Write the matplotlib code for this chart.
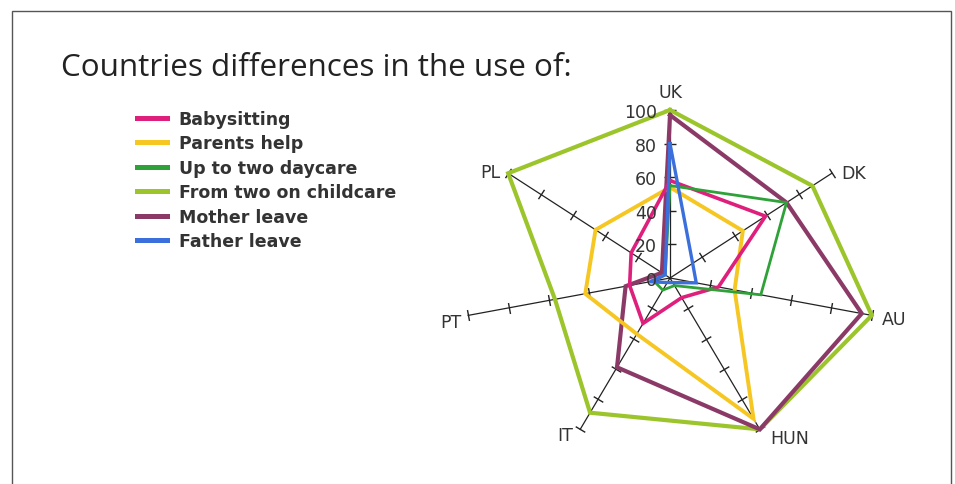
import numpy as np
import matplotlib
matplotlib.use("Agg")
import matplotlib.pyplot as plt
from matplotlib.lines import Line2D
from matplotlib.patches import Rectangle

# ---------------- data ----------------
countries = ['UK', 'DK', 'AU', 'HUN', 'IT', 'PT', 'PL']
babysitting = [58, 59, 24, 13, 30, 20, 24]
parents_help = [54, 45, 32, 93, 37, 42, 46]
up_to_two_daycare = [55, 72, 45, 5, 8, 8, 3]
from_two_childcare = [100, 88, 100, 100, 89, 57, 100]
mother_leave = [97, 72, 95, 100, 59, 22, 5]
father_leave = [80, 14, 13, 3, 3, 10, 3]
radial_ticks = [0, 20, 40, 60, 80, 100]
title = "Countries differences in the use of:"

series = [
    ("From two on childcare", from_two_childcare, "#9cc52c", 3.0),
    ("Mother leave", mother_leave, "#8b3a67", 3.0),
    ("Parents help", parents_help, "#f6c623", 2.8),
    ("Babysitting", babysitting, "#df1f7c", 2.6),
    ("Up to two daycare", up_to_two_daycare, "#2ea238", 2.0),
    ("Father leave", father_leave, "#3b6fdc", 2.4),
]
legend_order = ["Babysitting", "Parents help", "Up to two daycare",
                "From two on childcare", "Mother leave", "Father leave"]

W, H = 955, 485
fig = plt.figure(figsize=(W / 100, H / 100), dpi=100)
fig.patch.set_facecolor("white")

# frame around the slide
fig.add_artist(Rectangle((12 / W, -0.05), (951 - 12) / W, (H - 12) / H + 0.05,
                         transform=fig.transFigure, fill=False,
                         edgecolor="#555555", linewidth=1.0))

# polar axes, stretched horizontally like the reference
cx, cy = 670, 206          # centre in px from bottom-left
rx, ry = 207, 168
ax = fig.add_axes([(cx - rx) / W, (cy - ry) / H, 2 * rx / W, 2 * ry / H],
                  projection="polar")
ax.set_aspect("auto")
ax.set_theta_zero_location("N")
ax.set_theta_direction(-1)
ax.set_ylim(0, 100)
ax.grid(False)
ax.spines["polar"].set_visible(False)
ax.set_xticks([])
ax.set_yticks([])
ax.patch.set_alpha(0)

n = len(countries)
theta = np.arange(n) * 2 * np.pi / n

# spokes with tick marks
for t in theta:
    ax.plot([t, t], [0, 100], color="#222222", lw=0.9, zorder=2, clip_on=False)
    phi = np.degrees(np.arctan2(ry * np.cos(t), rx * np.sin(t)))
    ax.plot([t] * 5, radial_ticks[1:], linestyle="none",
            marker=(2, 0, phi), markersize=8, markeredgewidth=1.0,
            markeredgecolor="#222222", zorder=2, clip_on=False)

# series
handles = {}
for name, vals, col, lw in series:
    v = list(vals) + [vals[0]]
    tt = list(theta) + [theta[0]]
    ax.plot(tt, v, color=col, lw=lw, zorder=3, clip_on=False,
            solid_joinstyle="miter")
    handles[name] = Line2D([0], [0], color=col, lw=3.6)

# radial tick labels along UK axis
for r in radial_ticks:
    ax.annotate(str(r), xy=(0, r), xytext=(-13, -2), textcoords="offset pixels",
                ha="right", va="center", fontsize=12.5, color="#333333",
                family="DejaVu Sans", zorder=5)

# country labels
offsets = {
    'UK': ((0, 9), 'center', 'bottom'),
    'DK': ((9, 0), 'left', 'center'),
    'AU': ((10, -4), 'left', 'center'),
    'HUN': ((10, -9), 'left', 'center'),
    'IT': ((-7, -6), 'right', 'center'),
    'PT': ((-7, -7), 'right', 'center'),
    'PL': ((-8, 1), 'right', 'center'),
}
for t, c in zip(theta, countries):
    off, ha, va = offsets[c]
    ax.annotate(c, xy=(t, 100), xytext=off, textcoords="offset pixels",
                ha=ha, va=va, fontsize=12.5, color="#333333",
                family="DejaVu Sans")

# title
fig.text(61 / W, 1 - 68 / H, title, fontsize=22.6, color="#222222",
         family="Open Sans", ha="left", va="center")

# legend
fig.legend([handles[k] for k in legend_order], legend_order,
           loc="upper left", bbox_to_anchor=(137 / W, 1 - 111 / H),
           frameon=False, handlelength=1.7, handletextpad=0.7,
           labelspacing=0.37, borderpad=0, borderaxespad=0,
           labelcolor="#333333",
           prop={"family": "DejaVu Sans", "weight": "bold", "size": 12.5})

fig.savefig("out.png", dpi=100)
